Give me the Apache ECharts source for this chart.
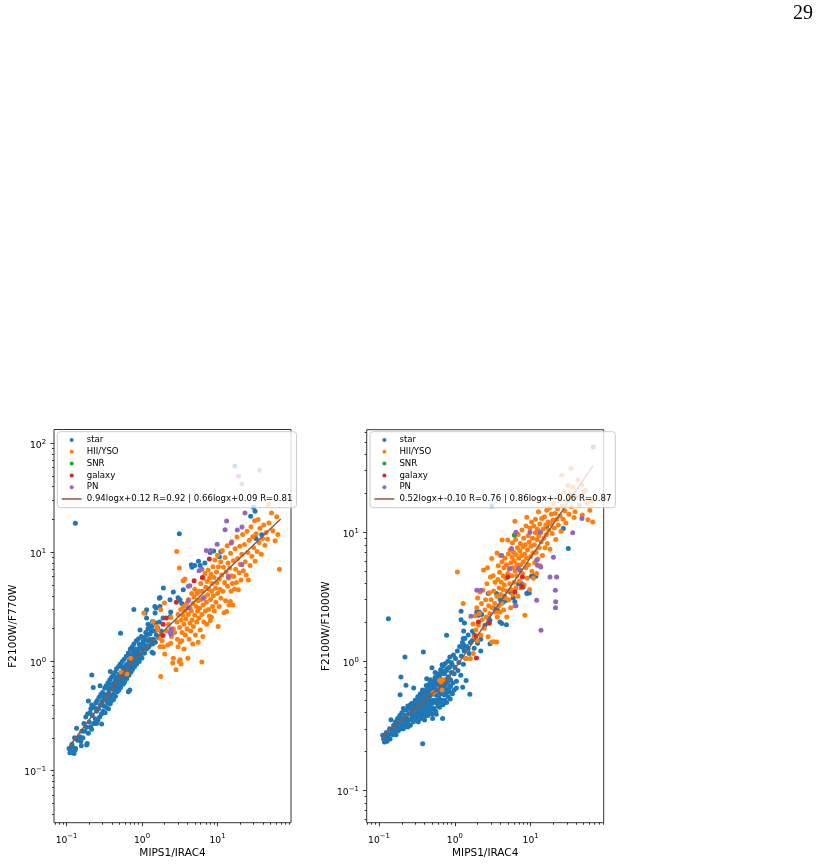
<!DOCTYPE html>
<html>
<head>
<meta charset="utf-8">
<script src="https://cdn.jsdelivr.net/npm/echarts@6/dist/echarts.min.js"></script>
<style>html,body{margin:0;padding:0;background:#fff}#c{width:819px;height:865px}</style>
</head>
<body>
<div id="c"></div>
<script>
// ---------- tick values ----------
const majorTicks = [0.1, 1, 10, 100];
const minorTicks = [0.03,0.04,0.05,0.06,0.07,0.08,0.09,0.2,0.3,0.4,0.5,0.6,0.7,0.8,0.9,2,3,4,5,6,7,8,9,20,30,40,50,60,70,80,90];
const tickExponents = {'-1':'\u22121','0':'0','1':'1','2':'2'};
const seriesNames = ['star','HII/YSO','SNR','galaxy','PN'];
const seriesColors = ['#1f77b4','#ff7f0e','#2ca02c','#d62728','#9467bd'];
const fitColor = '#8c564b';
const xLabel = 'MIPS1/IRAC4';
const yLabelLeft = 'F2100W/F770W';
const yLabelRight = 'F2100W/F1000W';
const fitNameLeft = '0.94logx+0.12 R=0.92 | 0.66logx+0.09 R=0.81';
const fitNameRight = '0.52logx+-0.10 R=0.76 | 0.86logx+-0.06 R=0.87';
const xRangeLeft = [0.0683, 94.1], yRangeLeft = [0.0334, 133.6];
const xRangeRight = [0.0689, 92.0], yRangeRight = [0.0561, 62.4];

// ---------- left panel: MIPS1/IRAC4 vs F2100W/F770W ----------
const leftStar = [
[0.108,0.16],[0.111,0.146],[0.115,0.15],[0.12,0.165],[0.126,0.144],[0.13,0.155],[0.132,0.16],[0.118,0.175],[0.136,0.245],[0.14,0.19],[0.145,0.2],[0.15,0.205],[0.155,0.185],[0.157,0.169],[0.16,0.23],[0.128,0.2],[0.131,18.5],
[0.165,0.2],[0.17,0.27],[0.175,0.23],[0.18,0.31],[0.185,0.172],[0.185,0.25],[0.188,0.178],[0.19,0.33],[0.195,0.22],[0.195,0.436],[0.2,0.28],[0.205,0.34],[0.209,0.253],[0.21,0.37],[0.216,0.4],[0.215,0.24],[0.216,0.755],[0.22,0.32],[0.226,0.58],[0.23,0.27],[0.235,0.38],[0.238,0.274],[0.24,0.3],[0.245,0.42],[0.25,0.27],[0.25,0.35],
[0.255,0.44],[0.26,0.29],[0.265,0.37],[0.27,0.47],[0.275,0.31],[0.278,0.6],[0.28,0.4],[0.285,0.5],[0.29,0.33],[0.292,0.268],[0.295,0.43],[0.3,0.52],[0.305,0.35],[0.31,0.47],[0.315,0.39],[0.32,0.57],[0.325,0.34],[0.33,0.45],[0.335,0.6],[0.34,0.38],[0.345,0.5],[0.35,0.42],[0.355,0.64],[0.36,0.37],[0.365,0.54],[0.37,0.46],[0.375,0.68],[0.38,0.81],[0.38,0.41],[0.385,0.57],[0.39,0.49],[0.395,0.72],[0.4,0.44],
[0.405,0.6],[0.41,0.5],[0.415,0.75],[0.42,0.76],[0.42,0.45],[0.43,0.64],[0.435,0.54],[0.44,0.8],[0.445,0.48],[0.45,0.69],[0.455,0.58],[0.46,0.86],[0.47,0.53],[0.475,0.72],[0.48,0.62],[0.49,0.9],[0.495,0.55],[0.5,0.77],[0.51,0.66],[0.515,0.95],[0.52,1.82],[0.52,0.58],[0.53,0.8],[0.54,0.68],[0.55,1.0],[0.56,0.62],[0.565,0.86],[0.57,0.73],[0.58,1.05],[0.59,0.66],[0.6,0.9],[0.61,0.78],[0.62,1.12],[0.63,0.7],
[0.64,0.95],[0.65,0.82],[0.66,0.53],[0.69,0.55],[0.66,1.2],[0.67,0.75],[0.68,1.02],[0.69,0.88],[0.7,1.3],[0.71,0.8],[0.72,1.08],[0.73,0.93],[0.74,1.36],[0.75,0.85],[0.76,1.14],[0.77,0.98],[0.78,3.0],[0.78,1.45],[0.8,0.9],[0.81,1.2],[0.82,1.04],[0.84,1.55],[0.85,0.95],[0.87,1.27],[0.88,1.1],[0.9,1.62],[0.92,1.0],[0.94,1.35],[0.96,1.18],[0.98,1.7],[1.0,1.08],
[0.3,0.4],[0.32,0.5],[0.34,0.44],[0.36,0.58],[0.38,0.49],[0.4,0.62],[0.42,0.56],[0.44,0.66],[0.46,0.55],[0.48,0.7],[0.5,0.6],[0.52,0.74],[0.54,0.9],[0.56,0.76],[0.58,0.64],[0.6,0.84],[0.62,0.93],[0.64,0.75],[0.66,0.9],[0.68,1.15],[0.7,0.95],[0.72,0.82],[0.74,1.05],[0.76,1.25],[0.78,0.96],[0.8,1.1],[0.83,1.3],[0.86,1.06],[0.89,1.2],[0.92,1.45],[0.95,1.12],[1.0,1.3],[1.04,1.55],[1.08,1.2],[1.12,1.4],[1.16,1.75],[1.22,1.35],[1.26,1.6],[1.32,1.9],[1.38,1.45],
[1.02,1.45],[1.05,1.2],[1.08,1.65],[1.1,1.35],[1.12,1.85],[1.15,1.3],[1.18,1.55],[1.2,2.0],[1.25,1.4],[1.28,1.8],[1.3,1.55],[1.35,2.1],[1.4,1.6],[1.45,1.9],[1.49,2.78],[1.5,1.5],[1.53,2.25],[1.55,1.75],[1.6,2.05],[1.65,1.65],[1.7,2.3],[1.73,3.87],[1.8,1.9],[1.92,4.71],[1.9,2.5],
[1.1,2.78],[1.15,2.5],[1.15,2.98],[1.2,2.2],[1.28,2.12],[1.38,2.33],[1.48,3.2],[1.53,3.1],[1.7,3.8],[1.73,3.2],[0.94,1.95],[1.36,1.22],[1.41,1.19],
[2.6,4.33],[3.18,3.68],[3.36,3.4],[2.35,3.68],[3.0,3.84],[3.52,4.55],[2.4,2.84],[2.37,2.59],
[3.12,14.8],[4.5,7.7],[4.6,7.3],[5.0,7.6],[5.6,8.3],[5.9,7.6],[6.8,8.0],[8.0,10.0],[8.9,10.3],[10.6,9.1],[11.1,10.2],[27.5,21.4],[30,25.9],[31.4,23.8],[32.4,13.4],[38.5,14.5],[17,62]
];
const leftHII = [
[0.53,0.8],[0.63,0.77],[0.71,1.07],
[1.06,2.78],[1.41,2.33],[1.57,2.1],[1.62,1.95],[1.7,1.64],[1.73,1.37],[1.77,2.98],[1.77,0.73],[1.8,1.75],[1.85,1.55],[1.92,1.37],[1.98,3.43],[2.0,1.17],[2.1,1.9],[2.2,1.42],[2.25,2.2],[2.4,1.47],[2.4,2.53],[2.45,1.7],[2.55,0.97],[2.6,1.07],[2.6,2.0],[2.7,1.85],[2.82,0.84],
[2.88,10.2],[2.9,2.3],[2.95,1.6],[3.0,1.37],[3.0,2.7],[3.1,1.0],[3.12,7.2],[3.15,2.05],[3.2,1.04],[3.2,1.5],[3.25,3.0],[3.3,0.95],[3.3,2.4],[3.36,1.55],[3.4,1.85],[3.45,2.65],[3.5,5.5],[3.55,3.2],[3.6,1.3],[3.6,2.2],[3.7,5.7],[3.7,2.9],[3.75,1.75],[3.8,2.45],[3.9,3.4],[3.95,2.0],
[4.05,1.07],[4.1,2.7],[4.15,3.7],[4.2,1.6],[4.3,2.25],[4.35,3.1],[4.4,1.9],[4.5,2.9],[4.55,4.2],[4.6,2.4],[4.7,1.45],[4.75,3.4],[4.8,2.1],[4.9,3.9],[5.0,2.65],[5.0,4.6],[5.1,1.75],[5.2,3.2],[5.3,2.3],[5.35,4.2],[5.45,2.9],[5.5,3.6],[5.55,1.5],
[5.65,2.5],[5.7,4.4],[5.8,3.1],[5.9,1.95],[6.0,5.2],[6.05,3.7],[6.2,0.99],[6.2,2.7],[6.3,4.4],[6.4,1.7],[6.45,3.3],[6.5,5.8],[6.6,2.3],[6.7,3.9],[6.8,6.4],[6.9,2.9],[7.0,4.8],[7.1,3.5],[7.2,2.2],[7.3,5.4],[7.4,4.1],[7.5,6.9],[7.6,3.0],[7.7,4.6],[7.8,2.6],[7.85,5.8],
[8.0,2.36],[8.1,3.7],[8.2,6.3],[8.3,2.54],[8.4,4.4],[8.5,5.2],[8.6,3.2],[8.7,7.4],[8.8,4.0],[9.0,5.9],[9.1,2.9],[9.2,8.5],[9.4,4.7],[9.5,3.5],[9.7,6.6],[9.8,5.3],[10.0,4.2],[10.0,9.4],[10.2,2.1],[10.3,7.4],[10.5,3.2],[10.6,5.7],[10.8,4.6],[11.0,8.2],[11.1,3.8],
[11.4,6.2],[11.6,10.4],[11.8,4.4],[12.0,7.3],[12.2,2.8],[12.4,5.3],[12.6,9.0],[12.8,3.6],[13.0,6.6],[13.2,2.88],[13.4,11.5],[13.6,4.9],[13.8,8.0],[14.0,5.8],[14.2,3.3],[14.5,7.2],[14.8,3.55],[14.9,9.8],[15.1,4.4],[15.3,6.1],[15.5,12.6],[15.7,5.2],
[16.0,3.3],[16.2,8.4],[16.5,6.0],[16.8,4.6],[17.1,10.8],[17.4,7.0],[17.8,5.3],[18.1,13.8],[18.5,8.8],[18.9,4.55],[19.3,6.5],[19.7,11.4],[20.0,7.8],[20.5,5.6],[21.0,9.6],[21.5,14.6],[22.0,6.8],
[22.8,11.8],[23.3,8.2],[24.0,6.2],[24.6,15.6],[25.2,10.0],[25.6,5.6],[26.3,12.9],[27.0,7.6],[27.8,17.2],[28.5,9.2],[29.3,13.9],[30.2,11.0],[31.0,19.5],[31.5,8.3],
[32.5,14.8],[33.5,10.2],[34.5,20.0],[35.5,12.3],[36.5,16.6],[38.0,9.6],[39.5,13.4],[41.0,17.8],[42.5,11.6],[44.0,15.2],
[46,13.2],[47,27.4],[48,18.6],[52,23.0],[54,15.8],[58,12.8],[61,21.2],[63,14.6],[66,7.0]
];
const leftSNR = [];
const leftGalaxy = [[7.8,8.7],[6.3,5.9],[4.9,5.5],[2.85,3.5],[2.1,2.5],[1.9,2.2],[1.9,1.73]];
const leftPN = [
[23.1,23],[13.2,19.4],[21.1,17.1],[18.3,16],[12.6,16.1],[9.9,11.9],[15.2,12.2],[7.1,10.4],[8.1,10.4],[5.7,6.8],[6.2,7.0],[4.3,4.95],[4.1,4.9],[6.5,3.8],[4.1,3.6],[4.1,3.1],[2.42,1.99],[2.42,1.78],[2.38,1.85],[21,7.7],[13.9,6.0],[19.1,49.8],[21.1,42.4],[35.8,56.5]
];
const leftFit = [[0.108,0.165],[0.78,1.045],[68.7,20.2]];

// ---------- right panel: MIPS1/IRAC4 vs F2100W/F1000W ----------
const rightStar = [
[0.112,0.267],[0.115,0.25],[0.118,0.237],[0.12,0.26],[0.122,0.245],[0.125,0.28],[0.128,0.24],[0.13,0.255],[0.133,2.14],[0.134,0.27],[0.138,0.3],[0.14,0.25],[0.144,0.353],[0.147,0.28],[0.15,0.3],[0.153,0.27],[0.156,0.32],[0.16,0.29],
[0.165,0.34],[0.168,0.27],[0.172,0.31],[0.176,0.36],[0.18,0.29],[0.184,0.33],[0.188,0.38],[0.19,0.55],[0.19,0.3],[0.195,0.755],[0.195,0.35],[0.2,0.32],[0.2,0.4],[0.205,0.36],[0.21,0.3],[0.21,0.43],[0.215,0.34],[0.22,1.08],[0.22,0.38],[0.225,0.32],[0.227,0.652],[0.23,0.42],[0.235,0.36],[0.24,0.31],[0.24,0.45],[0.245,0.39],[0.25,0.35],
[0.255,0.43],[0.26,0.32],[0.265,0.4],[0.27,0.47],[0.275,0.37],[0.28,0.42],[0.285,0.34],[0.287,0.621],[0.29,0.45],[0.295,0.39],[0.3,0.5],[0.305,0.36],[0.31,0.43],[0.315,0.47],[0.32,0.4],[0.325,0.53],[0.33,0.37],[0.335,0.45],[0.34,0.49],[0.345,0.41],[0.35,0.56],[0.355,0.38],[0.36,0.46],[0.365,0.52],[0.37,0.43],[0.375,0.6],[0.377,0.23],[0.38,0.4],[0.385,1.18],[0.385,0.48],[0.39,0.55],[0.395,0.44],[0.4,0.51],
[0.405,0.38],[0.41,0.58],[0.415,0.46],[0.42,0.53],[0.426,0.734],[0.43,0.42],[0.435,0.62],[0.44,0.49],[0.445,0.56],[0.45,0.4],[0.455,0.66],[0.46,0.52],[0.465,0.45],[0.47,0.59],[0.475,0.7],[0.48,0.48],[0.485,0.55],[0.49,0.63],[0.5,0.43],[0.5,0.89],[0.51,0.58],[0.51,0.36],[0.52,0.68],[0.53,0.5],[0.54,0.62],[0.55,0.75],[0.56,0.55],[0.57,0.388],[0.57,0.66],[0.58,0.48],[0.59,0.8],[0.6,0.6],[0.61,0.7],[0.62,0.52],[0.63,0.78],
[0.64,0.64],[0.65,0.86],[0.66,0.57],[0.67,0.72],[0.68,0.82],[0.69,0.36],[0.69,0.62],[0.7,0.92],[0.71,0.7],[0.72,0.55],[0.73,0.8],[0.74,0.65],[0.75,0.96],[0.76,0.72],[0.77,0.58],[0.78,1.59],[0.78,0.85],[0.8,0.68],[0.81,1.0],[0.82,0.76],[0.84,0.62],[0.85,0.9],[0.86,1.08],[0.88,0.72],[0.9,0.82],[0.92,0.95],[0.94,0.68],[0.96,1.12],[0.98,0.8],[1.0,0.9],
[0.2,0.3],[0.22,0.42],[0.24,0.34],[0.26,0.46],[0.28,0.36],[0.3,0.48],[0.32,0.38],[0.34,0.52],[0.36,0.4],[0.38,0.55],[0.4,0.42],[0.42,0.6],[0.44,0.45],[0.46,0.62],[0.48,0.42],[0.5,0.66],[0.52,0.5],[0.54,0.7],[0.56,0.48],[0.58,0.74],[0.6,0.52],[0.62,0.78],[0.64,0.56],[0.66,0.8],[0.7,0.5],[0.72,0.84],[0.75,0.6],[0.8,0.88],[0.85,0.58],[0.9,0.98],
[0.3,0.36],[0.33,0.34],[0.36,0.36],[0.4,0.39],[0.44,0.38],[0.47,0.41],[0.5,0.39],[0.53,0.43],[0.56,0.41],[0.6,0.45],[0.63,0.44],[0.66,0.48],[0.7,0.46],[0.74,0.5],[0.78,0.48],[0.82,0.53],[0.87,0.51],[0.93,0.56],[0.42,0.65],[0.48,0.72],[0.55,0.82],[0.62,0.68],[0.68,0.94],[0.58,0.6],[0.45,0.5],[0.35,0.44],[0.27,0.39],[0.64,0.5],[0.76,0.55],[0.88,0.64],[1.05,0.62],[0.98,0.6],[0.72,0.66],[0.5,0.47],[0.4,0.35],
[1.02,1.05],[1.05,0.7],[1.08,1.2],[1.1,0.85],[1.13,0.98],[1.16,1.3],[1.2,0.78],[1.22,1.1],[1.26,1.4],[1.3,0.95],[1.31,1.72],[1.33,1.2],[1.36,1.5],[1.4,1.05],[1.44,1.3],[1.41,0.71],[1.27,0.63],[1.5,1.6],[1.55,1.15],[1.58,0.555],[1.6,1.4],
[1.21,2.44],[1.21,2.1],[1.34,1.98],[1.29,1.5],[1.27,1.28],[1.3,1.35],[1.5,1.25],[1.7,1.45],[1.8,1.6],[2.0,1.38],[2.2,1.2],[2.92,1.37],
[1.71,1.71],[1.8,1.26],[1.95,2.41],[2.04,2.27],[2.1,2.41],[2.2,1.48],[2.26,2.31],[2.5,1.9],[2.76,3.35],[2.8,2.15],[2.9,2.08],[3.07,16],[3.35,2.55],[3.55,3.35],[3.7,2.48],[3.98,3.0],[3.94,2.02],[4.17,1.96],[4.37,2.88],[4.5,3.2],[4.8,1.92],[4.84,2.97],
[5.35,3.44],[5.9,3.1],[6.2,2.9],[6.9,4.0],[7.24,5.07],[7.6,4.0],[8.0,3.77],[8.9,3.35],[9.3,3.43],[9.6,3.39],[10.2,4.56],[11.0,4.6],[11.7,4.56],[16.3,11.1],[27,10.7],[31.4,7.48],[67,45.8]
];
const rightHII = [
[0.52,0.57],[0.63,0.71],[0.66,0.69],[0.7,0.72],[0.68,0.6],
[1.08,4.92],[1.29,2.8],[1.4,1.05],[1.6,1.05],[1.75,1.15],[1.74,1.95],[1.8,1.55],[1.85,2.25],[1.9,1.75],[1.95,2.6],[1.98,1.45],[2.0,3.1],
[2.05,1.9],[2.1,2.35],[2.15,3.45],[2.2,1.6],[2.25,2.8],[2.3,2.1],[2.35,3.55],[2.4,5.1],[2.45,1.8],[2.5,2.5],[2.55,3.0],[2.6,2.2],[2.65,4.0],[2.7,5.3],[2.75,1.55],[2.8,2.7],[2.85,3.4],[2.9,2.35],[2.95,4.5],[3.0,3.0],[3.07,1.41],[3.07,6.25],[3.1,2.6],[3.2,4.6],[3.25,3.5],[3.3,1.42],[3.35,2.8],[3.4,4.1],[3.45,2.4],
[3.57,1.41],[3.6,6.9],[3.6,3.2],[3.65,2.2],[3.7,4.3],[3.75,5.5],[3.8,2.7],[3.85,3.7],[3.9,4.9],[3.95,2.4],[4.0,6.6],[4.05,3.3],[4.1,4.1],[4.15,2.8],[4.2,8.7],[4.2,5.9],[4.3,3.6],[4.35,4.6],[4.4,2.5],[4.45,5.3],[4.5,3.9],[4.6,6.3],[4.65,3.1],[4.7,4.4],[4.8,5.6],[4.85,2.2],[4.9,3.5],[5.0,8.7],[5.0,4.8],[5.1,6.8],[5.15,3.0],[5.2,5.2],[5.3,4.0],[5.35,7.3],[5.45,2.6],[5.5,5.8],[5.55,3.6],
[5.65,4.6],[5.7,6.4],[5.75,8.3],[5.8,3.3],[5.9,5.3],[5.95,7.0],[6.05,4.1],[6.1,6.0],[6.2,12.2],[6.2,2.7],[6.25,5.0],[6.35,8.8],[6.4,3.7],[6.45,6.7],[6.55,4.6],[6.6,5.6],[6.7,7.6],[6.8,3.2],[6.85,9.6],[6.95,5.2],[7.0,6.3],[7.1,4.2],[7.2,7.2],[7.3,8.2],[7.4,5.6],[7.5,3.7],[7.6,6.6],[7.7,10.4],[7.8,4.8],[7.9,7.7],[8.0,5.9],[8.1,9.0],[8.2,3.9],[8.3,6.8],[8.4,2.27],[8.5,8.0],[8.6,5.3],[8.7,11.2],[8.8,6.3],[8.9,13.1],
[9.0,4.4],[9.1,7.3],[9.3,9.4],[9.4,5.6],[9.6,8.4],[9.7,3.6],[9.8,10.8],[10.0,6.5],[10.1,7.8],[10.3,12.0],[10.4,5.0],[10.6,9.0],[10.7,6.9],[10.9,4.4],[11.0,11.2],[11.2,8.0],[11.3,5.8],[11.5,9.9],[11.6,12.6],[11.8,7.0],[12.0,4.8],[12.1,8.8],[12.3,10.6],[12.5,6.2],[12.7,14.4],[12.8,9.4],[13.0,7.6],[13.2,11.6],[13.4,5.5],[13.6,10.0],[13.8,8.4],[14.0,12.8],
[14.3,6.6],[14.6,10.6],[14.9,9.0],[15.2,13.2],[15.5,7.6],[15.8,11.4],[16.1,9.6],[16.3,14.8],[16.6,8.2],[17.0,12.0],[17.3,10.4],[17.7,15.4],[18.0,7.4],[18.4,11.6],[18.8,13.8],[19.2,9.8],[19.6,12.4],[20.0,16.6],[20.5,10.8],[21.0,14.0],[21.5,8.8],[22.0,12.6],
[22.6,15.2],[23.2,11.4],[23.8,18.2],[24.5,13.4],[25.2,10.2],[25.7,27.7],[26.0,16.0],[26.8,12.6],[27.6,20.5],[28.4,14.6],[29.2,11.8],[30.0,17.6],[31.0,23.0],[32.0,13.8],[33.0,19.5],[34.0,31.2],[34.5,15.8],
[36,22.4],[37.5,13.0],[38.5,14.4],[40,18.6],[42,25.5],[44,16.2],[47,23.3],[48,13.6],[50,20.5],[52.5,21.2],[55,16.8],[57,12.5],[60.5,14.8],[63,17.5],[66,12.0]
];
const rightSNR = [[6.1,9.5]];
const rightGalaxy = [[5.0,4.5],[7.8,4.5],[7.7,3.8],[6.2,3.45],[2.05,2.02],[2.85,1.97],[1.9,1.57],[1.93,1.06]];
const rightPN = [
[47.5,12.8],[35.9,9.9],[20,6.4],[18,4.5],[22,4.5],[21.2,3.55],[21.4,2.9],[21.3,2.6],[12,2.97],[13.7,1.74],[6.4,2.7],[1.95,3.55],[2.2,3.55],[1.63,2.23],[4.15,6.6],[5.6,7.5],[5.35,5.23],[6.9,5.23],[12.3,5.55],[13.6,5.38],[12,6.07],[6.4,10.0],[9.8,10.0],[13.3,10.0]
];
const rightFit = [[0.109,0.26],[0.76,0.69],[67,33]];

// ---------- build chart ----------
const FONT = 'DejaVu Sans';
const lg = v => Math.log10(v);
const toLog = arr => arr.map(p => [lg(p[0]), lg(p[1])]);
const tickColor = '#333';
const labelRich = {
  b: {fontFamily: FONT, fontSize: 9.2, color: '#000', lineHeight: 14},
  s: {fontFamily: FONT, fontSize: 6.8, color: '#000', lineHeight: 4.6, verticalAlign: 'top'}
};

function axes(dim, gridIndex, range, name, nameGap) {
  const base = {
    type: 'value', gridIndex: gridIndex, min: lg(range[0]), max: lg(range[1]),
    position: dim === 'x' ? 'bottom' : 'left',
    axisLine: {show: false, onZero: false},
    splitLine: {show: false}, minorTick: {show: false}
  };
  const major = Object.assign({}, base, {
    name: name, nameLocation: 'middle', nameGap: nameGap,
    nameRotate: dim === 'x' ? 0 : 90,
    nameTextStyle: {fontFamily: FONT, fontSize: 10.5, color: '#000'},
    axisTick: {show: true, inside: false, length: 3.5, customValues: majorTicks.map(lg), lineStyle: {color: tickColor, width: 1}},
    axisLabel: {show: true, customValues: majorTicks.map(lg), margin: dim === 'x' ? 10.5 : 8,
      fontFamily: FONT, fontSize: 9.2, color: '#000',
      padding: dim === 'x' ? 0 : [4, 0, 0, 0],
      rich: labelRich,
      formatter: v => '{b|10}{s|' + (tickExponents[String(Math.round(v))] || '') + '}'}
  });
  const minor = Object.assign({}, base, {
    axisTick: {show: true, inside: false, length: 2, customValues: minorTicks.map(lg), lineStyle: {color: tickColor, width: 1}},
    axisLabel: {show: false}
  });
  return [major, minor];
}

const xAxes = [...axes('x', 0, xRangeLeft, xLabel, 25.5), ...axes('x', 1, xRangeRight, xLabel, 25.5)];
const yAxes = [...axes('y', 0, yRangeLeft, yLabelLeft, 35), ...axes('y', 1, yRangeRight, yLabelRight, 35)];

function scatter(name, data, color, ai) {
  return {type: 'scatter', name: name, xAxisIndex: ai, yAxisIndex: ai, data: toLog(data),
    symbol: 'circle', symbolSize: 5, itemStyle: {color: color, opacity: 1}, silent: true, emphasis: {disabled: true}};
}
function fit(name, data, ai) {
  return {type: 'line', name: name, xAxisIndex: ai, yAxisIndex: ai, data: toLog(data),
    symbol: 'none', showSymbol: false, lineStyle: {color: fitColor, width: 1.5}, itemStyle: {color: fitColor},
    silent: true, emphasis: {disabled: true}};
}
const leftSets = [leftStar, leftHII, leftSNR, leftGalaxy, leftPN];
const rightSets = [rightStar, rightHII, rightSNR, rightGalaxy, rightPN];
const series = [];
leftSets.forEach((d, i) => series.push(scatter(seriesNames[i], d, seriesColors[i], 0)));
series.push(fit(fitNameLeft, leftFit, 0));
rightSets.forEach((d, i) => series.push(scatter(seriesNames[i], d, seriesColors[i], 2)));
series.push(fit(fitNameRight, rightFit, 2));

const lineIcon = 'path://M0,0h20v1.5h-20z';
function legend(left, fitName) {
  return {
    left: left, top: 431.7, orient: 'vertical', selectedMode: false,
    data: seriesNames.concat([{name: fitName, icon: lineIcon, itemStyle: {borderWidth: 0, color: fitColor}}]),
    itemWidth: 20, itemHeight: 4, itemGap: 1.8, padding: [3.3, 4, 3.7, 4.4],
    backgroundColor: 'rgba(255,255,255,0.8)', borderColor: '#cccccc', borderWidth: 1, borderRadius: 3,
    textStyle: {fontFamily: FONT, fontSize: 8.6, lineHeight: 10, color: '#000'}
  };
}

const chart = echarts.init(document.getElementById('c'), null, {renderer: 'canvas'});
chart.setOption({
  animation: false,
  backgroundColor: '#fff',
  grid: [
    {left: 54, top: 429.5, width: 237, height: 393.2, show: true, borderColor: '#333', borderWidth: 1, backgroundColor: 'transparent'},
    {left: 366.7, top: 429.7, width: 237, height: 393, show: true, borderColor: '#333', borderWidth: 1, backgroundColor: 'transparent'}
  ],
  xAxis: xAxes,
  yAxis: yAxes,
  legend: [legend(57.3, fitNameLeft), legend(370, fitNameRight)],
  graphic: [{type: 'text', left: 793, top: 4, style: {text: '29', fontFamily: 'Liberation Serif', fontSize: 20, fill: '#000'}}],
  series: series
});
</script>
</body>
</html>
